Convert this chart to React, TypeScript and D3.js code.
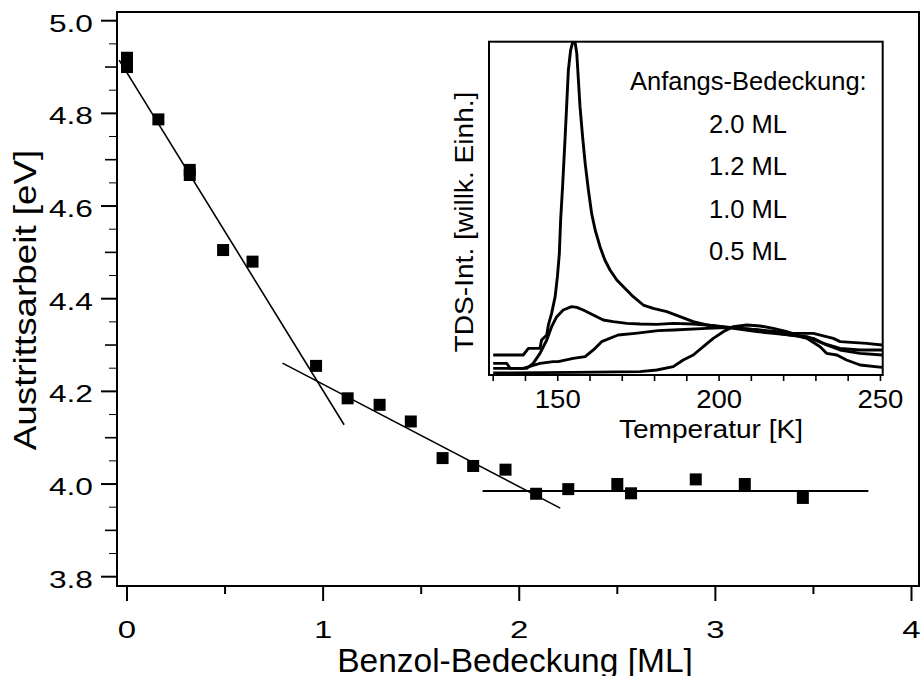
import React from "react";
import * as d3 from "d3";

// ---------- main plot data ----------
const coverage = [0, 0, 0.16, 0.32, 0.32, 0.49, 0.64, 0.964, 1.125, 1.288, 1.447, 1.609, 1.765, 1.93, 2.086, 2.25, 2.5, 2.57, 2.9, 3.15, 3.446];
const workFunction = [4.92, 4.9, 4.787, 4.678, 4.667, 4.505, 4.48, 4.255, 4.185, 4.171, 4.135, 4.056, 4.039, 4.031, 3.979, 3.989, 4.0, 3.98, 4.01, 4.0, 3.97];

const fitStartX = [-0.04, 0.793, 1.813];
const fitStartY = [4.915, 4.261, 3.985];
const fitEndX = [1.107, 2.209, 3.78];
const fitEndY = [4.128, 3.948, 3.985];

const xTicks = [0, 1, 2, 3, 4];
const xTickLabels = ["0", "1", "2", "3", "4"];
const yTicks = [3.8, 4.0, 4.2, 4.4, 4.6, 4.8, 5.0];
const yTickLabels = ["3.8", "4.0", "4.2", "4.4", "4.6", "4.8", "5.0"];

// ---------- inset (TDS spectra) data ----------
const tds20T = [130.0, 139.3, 140.9, 144.5, 145.0, 146.6, 147.1, 148.1, 149.2, 149.9, 150.5, 150.9, 151.5, 152.3, 152.8, 153.3, 154.0, 154.6, 155.4, 155.9, 156.4, 156.9, 157.7, 158.5, 159.5, 160.5, 161.6, 163.1, 164.6, 166.2, 168.3, 170.8, 173.4, 176.5, 179.6, 183.8, 187.9, 192.0, 196.2, 201.3, 206.5, 212.7, 217.9, 223.0, 229.2, 235.4, 237.5, 245.7, 250.5];
const tds20I = [6.0, 6.0, 8.0, 8.0, 10.5, 12.0, 15.0, 18.5, 23.5, 29.5, 36.5, 46.5, 56.5, 71.5, 81.5, 91.5, 97.5, 99.7, 99.7, 96.5, 88.5, 80.5, 71.5, 63.5, 55.5, 48.5, 43.5, 38.5, 34.5, 31.5, 28.5, 26.0, 23.5, 21.0, 20.0, 19.0, 17.5, 16.0, 15.0, 14.5, 14.0, 13.5, 13.0, 12.5, 12.5, 11.0, 10.0, 9.5, 9.0];

const tds12T = [130.0, 134.2, 135.2, 140.4, 142.4, 144.5, 146.6, 148.1, 149.7, 151.7, 154.3, 155.9, 157.9, 161.0, 164.1, 167.2, 171.4, 175.5, 180.7, 185.8, 192.0, 196.2, 204.4, 211.7, 216.8, 222.0, 227.2, 232.3, 237.5, 243.7, 250.5];
const tds12I = [3.5, 3.5, 2.0, 2.0, 3.5, 6.5, 10.5, 14.5, 17.5, 19.5, 20.5, 20.3, 19.5, 18.0, 16.5, 16.0, 15.5, 15.3, 15.2, 15.5, 15.3, 15.0, 14.0, 13.0, 12.5, 12.0, 11.5, 9.5, 8.0, 7.5, 7.5];

const tds10T = [130.0, 139.3, 144.5, 148.6, 150.1, 154.8, 158.5, 161.6, 163.6, 168.7, 174.0, 181.1, 185.8, 196.2, 204.4, 211.7, 222.0, 229.2, 233.3, 237.5, 243.7, 250.5];
const tds10I = [2.0, 2.0, 3.5, 4.0, 4.0, 5.0, 5.5, 8.0, 10.0, 12.0, 12.5, 13.3, 13.5, 14.0, 14.3, 13.5, 12.0, 11.0, 9.0, 7.5, 6.5, 6.0];

const tds05T = [130.0, 154.8, 175.5, 180.7, 185.8, 188.9, 192.0, 195.1, 198.2, 201.3, 204.4, 208.6, 212.7, 216.8, 221.0, 225.1, 227.2, 231.3, 233.3, 236.5, 239.5, 243.7, 250.5];
const tds05I = [0.6, 0.8, 1.0, 1.5, 2.5, 4.5, 6.0, 8.5, 11.0, 13.0, 14.5, 15.0, 14.7, 14.0, 13.0, 11.5, 11.0, 8.5, 6.5, 6.0, 4.5, 3.0, 2.3];

const insetTicks = [150, 200, 250];
const insetTickLabels = ["150", "200", "250"];
const legendTitle = "Anfangs-Bedeckung:";
const legendLabels = ["2.0 ML", "1.2 ML", "1.0 ML", "0.5 ML"];

const FONT = "'Liberation Sans', Arial, Helvetica, sans-serif";

function Txt(props: {
  x: number; y: number; size: number; sx?: number; rotate?: number;
  anchor?: string; children: React.ReactNode;
}) {
  const { x, y, size, sx = 1, rotate = 0, anchor = "middle", children } = props;
  return (
    <text
      transform={`translate(${x},${y}) rotate(${rotate}) scale(${sx},1)`}
      textAnchor={anchor}
      fontFamily={FONT}
      fontSize={size}
      fill="#000"
    >
      {children}
    </text>
  );
}

export default function App() {
  // main scales
  const x = d3.scaleLinear().domain([0, 4]).range([127, 911.5]);
  const y = d3.scaleLinear().domain([3.8, 5.0]).range([576.7, 20.7]);
  const frame = { left: 117, right: 919, top: 12, bottom: 586 };

  // inset scales
  const ix = d3.scaleLinear().domain([128.7, 250.7]).range([489, 882.7]);
  const iy = d3.scaleLinear().domain([0, 100]).range([375, 41.7]);

  const line = d3
    .line<[number, number]>()
    .x((d) => ix(d[0]))
    .y((d) => iy(d[1]));

  const series: [number[], number[]][] = [
    [tds20T, tds20I],
    [tds12T, tds12I],
    [tds10T, tds10I],
    [tds05T, tds05I],
  ];

  const yMinor05 = d3.range(3.85, 5.0, 0.1); // 0.05 offsets
  const yMinor10 = [3.9, 4.1, 4.3, 4.5, 4.7, 4.9];
  const xMinor = [0.5, 1.5, 2.5, 3.5];
  const insetMinor = d3.range(130, 251, 10);

  return (
    <svg
      width={922}
      height={676}
      style={{ position: "absolute", left: 0, top: 0, background: "#fff" }}
    >
      <rect x={0} y={0} width={922} height={676} fill="#fff" />

      {/* main frame */}
      <rect
        x={frame.left}
        y={frame.top}
        width={frame.right - frame.left}
        height={frame.bottom - frame.top}
        fill="none"
        stroke="#000"
        strokeWidth={2}
      />

      {/* y ticks */}
      {yTicks.map((v) => (
        <line key={"ym" + v} x1={101} x2={frame.left} y1={y(v)} y2={y(v)} stroke="#000" strokeWidth={2} />
      ))}
      {yMinor10.map((v) => (
        <line key={"yn" + v} x1={105} x2={frame.left} y1={y(v)} y2={y(v)} stroke="#000" strokeWidth={1.6} />
      ))}
      {yMinor05.map((v) => (
        <line key={"yq" + v} x1={109} x2={frame.left} y1={y(v)} y2={y(v)} stroke="#000" strokeWidth={1} />
      ))}
      {yTicks.map((v, i) => (
        <Txt key={"yl" + v} x={93} y={y(v) + 11} size={23.5} sx={1.35} anchor="end">
          {yTickLabels[i]}
        </Txt>
      ))}

      {/* x ticks */}
      {xTicks.map((v) => (
        <line key={"xm" + v} x1={x(v)} x2={x(v)} y1={frame.bottom} y2={601} stroke="#000" strokeWidth={2} />
      ))}
      {xMinor.map((v) => (
        <line key={"xn" + v} x1={x(v)} x2={x(v)} y1={frame.bottom} y2={594} stroke="#000" strokeWidth={2} />
      ))}
      {xTicks.map((v, i) => (
        <Txt key={"xl" + v} x={x(v)} y={638} size={23.5} sx={1.4}>
          {xTickLabels[i]}
        </Txt>
      ))}

      {/* axis titles */}
      <Txt x={515} y={672} size={33.5}>Benzol-Bedeckung [ML]</Txt>
      <Txt x={36} y={300} size={32} rotate={-90} sx={1.15}>Austrittsarbeit [eV]</Txt>

      {/* fit lines */}
      {fitStartX.map((sx0, i) => (
        <line
          key={"fit" + i}
          x1={x(sx0)}
          y1={y(fitStartY[i])}
          x2={x(fitEndX[i])}
          y2={y(fitEndY[i])}
          stroke="#000"
          strokeWidth={i === 2 ? 2 : 1.6}
        />
      ))}

      {/* data markers */}
      {coverage.map((c, i) => (
        <rect
          key={"pt" + i}
          x={x(c) - 6}
          y={y(workFunction[i]) - 6}
          width={12}
          height={12}
          fill="#000"
        />
      ))}

      {/* ---------- inset ---------- */}
      <rect x={489} y={41.7} width={882.7 - 489} height={375 - 41.7} fill="#fff" stroke="none" />
      {series.map(([ts, is], k) => (
        <path
          key={"tds" + k}
          d={line(ts.map((t, j) => [t, is[j]] as [number, number])) || ""}
          fill="none"
          stroke="#000"
          strokeWidth={2.9}
          strokeLinejoin="round"
        />
      ))}
      <rect
        x={489}
        y={41.7}
        width={882.7 - 489}
        height={375 - 41.7}
        fill="none"
        stroke="#000"
        strokeWidth={2}
      />
      {insetMinor.map((t) => (
        <line key={"it" + t} x1={ix(t)} x2={ix(t)} y1={375} y2={381} stroke="#000" strokeWidth={1.6} />
      ))}
      {insetTicks.map((t, i) => (
        <Txt key={"il" + t} x={ix(t)} y={408} size={25} sx={1.1}>
          {insetTickLabels[i]}
        </Txt>
      ))}
      <Txt x={711} y={438} size={26} sx={1.08}>Temperatur [K]</Txt>
      <Txt x={473} y={222} size={25} rotate={-90} sx={1.125}>TDS-Int. [willk. Einh.]</Txt>

      <Txt x={866.7} y={90} size={25.5} anchor="end">{legendTitle}</Txt>
      {legendLabels.map((lab, i) => (
        <Txt key={lab} x={748} y={133 + i * 42.3} size={25.5}>
          {lab}
        </Txt>
      ))}
    </svg>
  );
}
